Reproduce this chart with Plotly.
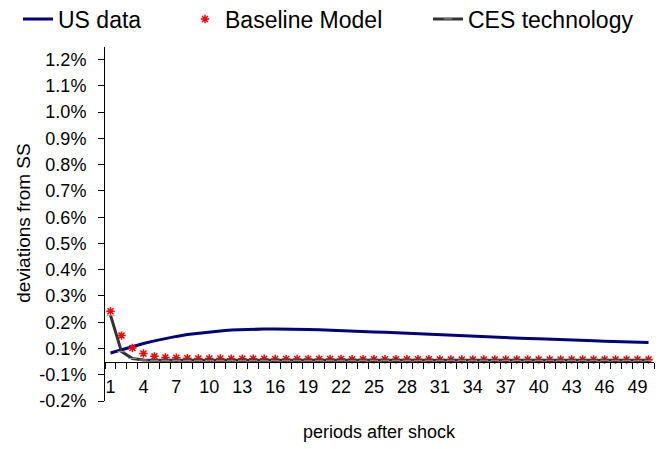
import plotly.graph_objects as go

periods = list(range(1, 51))

us_data = [0.033, 0.045, 0.058, 0.069, 0.079, 0.088, 0.096, 0.103, 0.108, 0.113,
           0.117, 0.120, 0.122, 0.123, 0.124, 0.124, 0.124, 0.123, 0.122, 0.121,
           0.119, 0.118, 0.116, 0.115, 0.113, 0.112, 0.110, 0.108, 0.106, 0.104,
           0.102, 0.101, 0.099, 0.097, 0.095, 0.093, 0.091, 0.090, 0.088, 0.087,
           0.085, 0.084, 0.082, 0.081, 0.079, 0.078, 0.077, 0.075, 0.074, 0.073]

baseline_model = [0.192, 0.099, 0.052, 0.031, 0.020, 0.016, 0.015, 0.013, 0.012, 0.012,
                  0.012, 0.011, 0.011, 0.011, 0.011, 0.010, 0.010, 0.010, 0.010, 0.010,
                  0.010, 0.010, 0.009, 0.009, 0.009, 0.009, 0.009, 0.009, 0.009, 0.009,
                  0.008, 0.008, 0.008, 0.008, 0.008, 0.008, 0.008, 0.008, 0.008, 0.008,
                  0.008, 0.008, 0.008, 0.008, 0.008, 0.008, 0.008, 0.008, 0.008, 0.008]

ces_technology = [0.177, 0.038, 0.012, 0.006, 0.005, 0.005, 0.005, 0.005, 0.005, 0.005,
                  0.005, 0.005, 0.005, 0.005, 0.005, 0.005, 0.005, 0.005, 0.005, 0.005,
                  0.005, 0.005, 0.005, 0.005, 0.005, 0.005, 0.005, 0.005, 0.005, 0.005,
                  0.005, 0.005, 0.005, 0.005, 0.005, 0.005, 0.005, 0.005, 0.005, 0.005,
                  0.005, 0.005, 0.005, 0.005, 0.005, 0.005, 0.005, 0.005, 0.005, 0.005]

y_tick_values = [-0.15, -0.05, 0.05, 0.15, 0.25, 0.35, 0.45, 0.55, 0.65, 0.75,
                 0.85, 0.95, 1.05, 1.15]
y_tick_labels = ["-0.2%", "-0.1%", "0.1%", "0.2%", "0.3%", "0.4%", "0.5%", "0.6%",
                 "0.7%", "0.8%", "0.9%", "1.0%", "1.1%", "1.2%"]
x_tick_values = list(range(1, 51, 3))
x_tick_labels = [str(v) for v in x_tick_values]

FONT = "Arial, Liberation Sans, sans-serif"
y_min, y_max = -0.15, 1.2

fig = go.Figure()
fig.add_trace(go.Scatter(
    x=periods, y=us_data, name="US data", mode="lines", showlegend=True,
    line=dict(color="#000080", width=3), legend="legend"))
fig.add_trace(go.Scatter(
    x=periods, y=baseline_model, name="Baseline Model", mode="markers", showlegend=True,
    marker=dict(symbol="asterisk-open", size=7, color="#FF0000",
                line=dict(color="#FF0000", width=1.5)), legend="legend2"))
fig.add_trace(go.Scatter(
    x=periods, y=ces_technology, name="CES technology", mode="lines+markers",
    showlegend=True,
    line=dict(color="#333333", width=3),
    marker=dict(symbol="line-ew-open", size=6, color="#999999",
                line=dict(color="#999999", width=1)), legend="legend3"))

legend_common = dict(orientation="h", xref="container", yref="container",
                     yanchor="middle", font=dict(family=FONT, size=23, color="#000"),
                     bgcolor="rgba(0,0,0,0)", itemwidth=30)

fig.update_layout(
    width=660, height=449, showlegend=True,
    margin=dict(l=105, r=6, t=36, b=48),
    paper_bgcolor="white", plot_bgcolor="white",
    font=dict(family=FONT, size=18, color="#000"),
    legend=dict(legend_common, x=18 / 660, y=1 - 19 / 449),
    legend2=dict(legend_common, x=185 / 660, y=1 - 19 / 449),
    legend3=dict(legend_common, x=428 / 660, y=1 - 19 / 449),
    xaxis=dict(
        range=[0.5, 50.5], anchor="free", position=(0 - y_min) / (y_max - y_min),
        showline=True, linecolor="#000", linewidth=1, showgrid=False, zeroline=False,
        tickmode="array", tickvals=x_tick_values, ticktext=x_tick_labels,
        ticks="outside", ticklen=6, tickcolor="rgba(0,0,0,0)",
        tickfont=dict(family=FONT, size=18, color="#000"),
        ticklabelstandoff=3,
        minor=dict(tick0=0.5, dtick=1, ticks="outside", ticklen=6, tickcolor="#000",
                   showgrid=False),
    ),
    yaxis=dict(
        range=[y_min, y_max], showline=True, linecolor="#000", linewidth=1,
        showgrid=False, zeroline=False,
        tickmode="array", tickvals=y_tick_values, ticktext=y_tick_labels,
        ticks="outside", ticklen=6, tickcolor="#000",
        tickfont=dict(family=FONT, size=18, color="#000"),
        ticklabelstandoff=8,
    ),
    annotations=[
        dict(text="deviations from SS", textangle=-90, xref="paper", yref="paper",
             x=(24 - 105) / 549, y=0.5, xanchor="center", yanchor="middle",
             showarrow=False, font=dict(family=FONT, size=19, color="#000")),
        dict(text="periods after shock", xref="paper", yref="paper",
             x=0.5, y=(401 - 433) / 365, xanchor="center", yanchor="middle",
             showarrow=False, font=dict(family=FONT, size=18, color="#000")),
    ],
)

fig.write_html("out.html")
